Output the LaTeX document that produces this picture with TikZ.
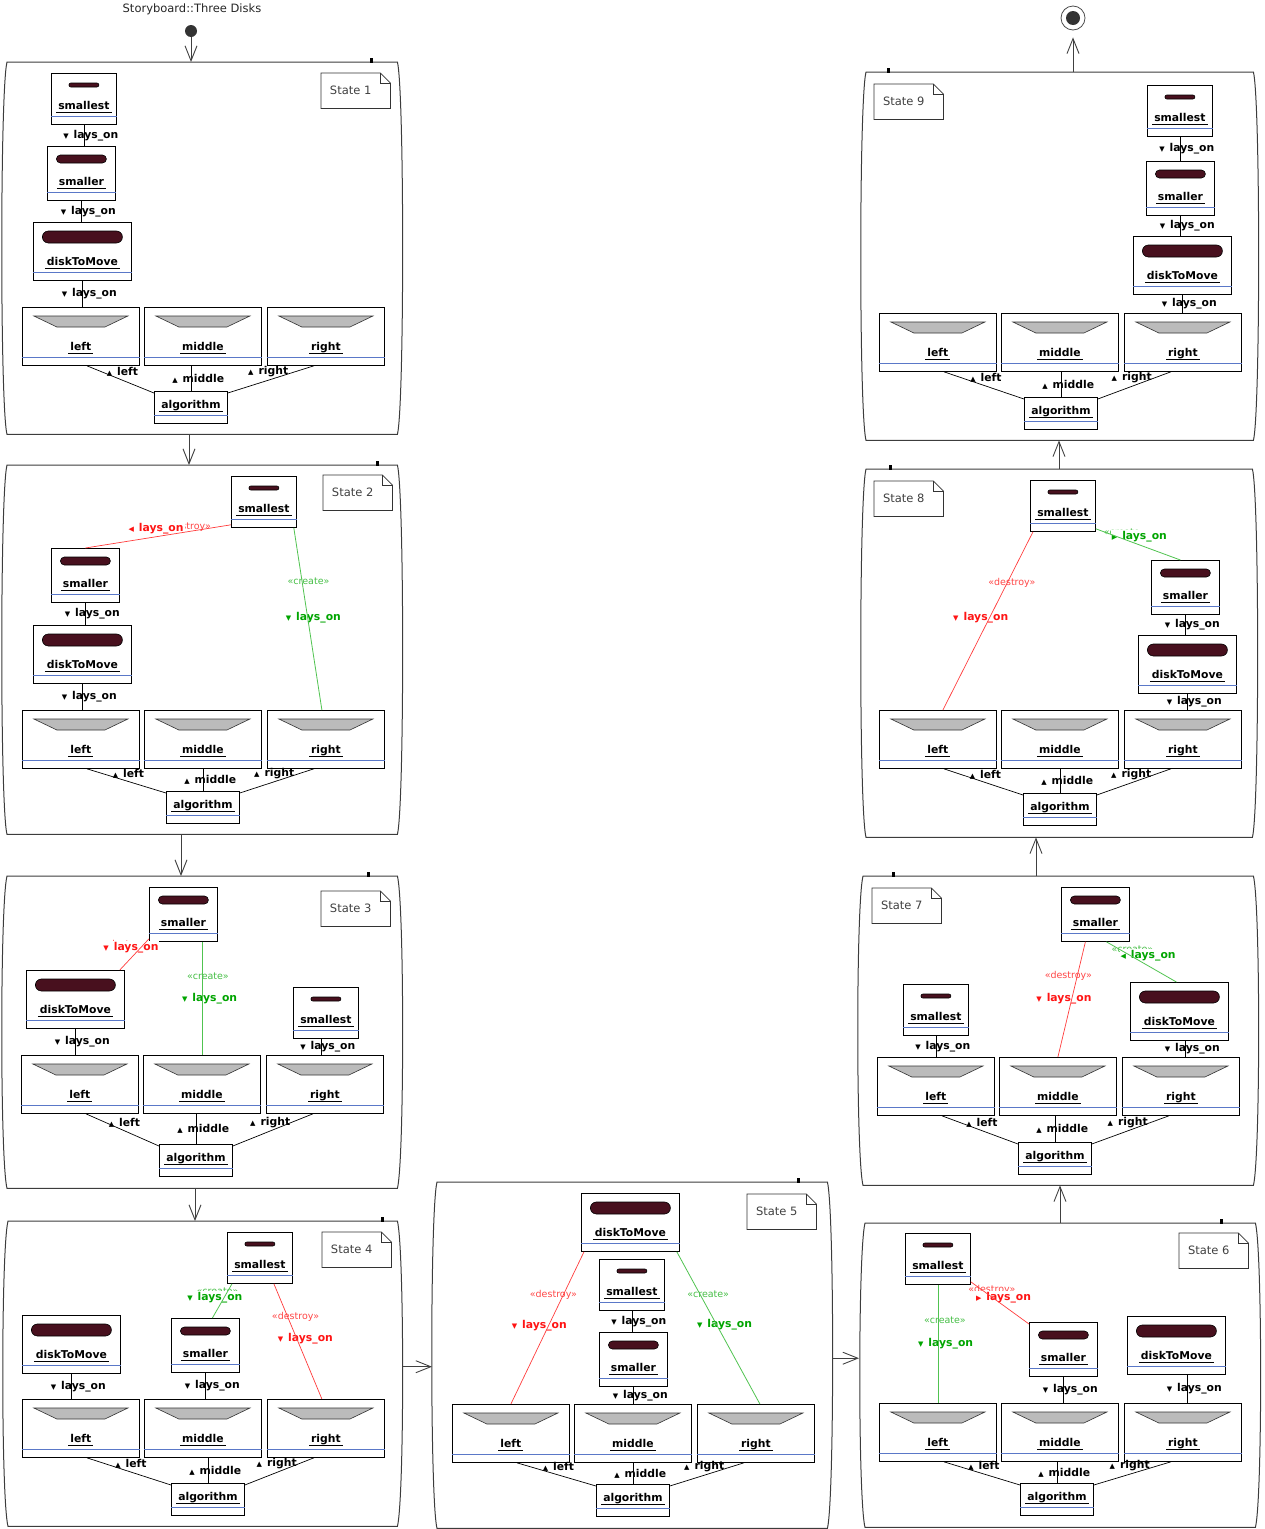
\documentclass[tikz,border=0pt]{standalone}
\usepackage{fontspec}
\setmainfont{DejaVu Sans}
\usetikzlibrary{arrows.meta, positioning, calc}

\definecolor{diskc}{RGB}{72,16,30}
\definecolor{pegc}{RGB}{187,187,187}
\definecolor{bluec}{RGB}{90,120,200}
\definecolor{frc}{RGB}{60,60,60}
\definecolor{lred}{RGB}{255,20,20}
\definecolor{lgrn}{RGB}{0,165,0}
\definecolor{sred}{RGB}{255,70,70}
\definecolor{sgrn}{RGB}{70,190,70}
\definecolor{rline}{RGB}{255,60,60}
\definecolor{gline}{RGB}{80,195,80}

\tikzset{
  objbox/.style={draw, fill=white, line width=0.8pt, inner sep=0, anchor=north west},
  nm/.style={font=\fontsize{10.8}{12}\selectfont\bfseries, anchor=base, inner sep=0},
  bline/.style={draw=bluec, line width=0.7pt},
  dsk/.style={fill=diskc, draw=black, line width=0.6pt},
  pegst/.style={fill=pegc, draw=black!80, line width=0.6pt},
  lnk/.style={draw=black, line width=0.7pt},
  lbl/.style={font=\fontsize{10.8}{12}\selectfont\bfseries, anchor=west, inner sep=0},
  clbl/.style={lbl, fill=white, inner sep=1pt},
  ster/.style={font=\fontsize{9.5}{11}\selectfont, inner sep=0},
  redl/.style={draw=rline, line width=0.7pt},
  grnl/.style={draw=gline, line width=0.8pt},
  stframe/.style={draw=frc, line width=1pt},
  statebox/.style={inner sep=0, anchor=north west},
  notebox/.style={inner sep=0, anchor=north west, minimum width=69, minimum height=35},
  notel/.style={draw=black!80, line width=0.7pt},
  notet/.style={font=\fontsize{11.5}{13}\selectfont, text=black!75, inner sep=0},
  trans/.style={draw=black!75, line width=0.9pt, -{Straight Barb[length=15pt,width=12pt]}},
}

% 名稱底線
\newcommand{\uln}[1]{\setbox0=\hbox{\kern2pt#1\kern2pt}\rlap{\copy0}\rule[-3pt]{\wd0}{0.7pt}}
% 小三角
\newcommand{\tdn}{{\normalfont\fontsize{7}{7}\selectfont ▼}\kern5pt}
\newcommand{\tup}{{\normalfont\fontsize{7}{7}\selectfont ▲}\kern5pt}
\newcommand{\tlf}{{\normalfont\fontsize{7}{7}\selectfont ◀}\kern5pt}
\newcommand{\trt}{{\normalfont\fontsize{7}{7}\selectfont ▶}\kern5pt}

% 物件框: id, x, y, 寬, 高, 名稱
\newcommand{\obj}[6]{%
  \node[objbox, minimum width=#4, minimum height=#5] (#1) at (#2,#3) {};
  \node[nm] (#1t) at ([yshift=15]#1.south) {\uln{#6}};
  \draw[bline] ([yshift=8]#1.south west) -- ([yshift=8]#1.south east);
}
% 圓盤: id, 半寬, 上距, 厚, 圓角
\newcommand{\dsk}[5]{%
  \filldraw[dsk, rounded corners=#5] ([xshift=-#2,yshift=-#3]#1.north) rectangle ([xshift=#2,yshift=-#3-#4]#1.north);
}
\newcommand{\smallestobj}[3]{\obj{#1}{#2}{#3}{65}{51}{smallest}\dsk{#1}{15}{10}{4}{2}}
\newcommand{\smallerobj}[3]{\obj{#1}{#2}{#3}{68}{54}{smaller}\dsk{#1}{25}{9}{8}{4}}
\newcommand{\moveobj}[3]{\obj{#1}{#2}{#3}{98}{58}{diskToMove}\dsk{#1}{40}{9}{12}{6}}
\newcommand{\pegobj}[4]{%
  \obj{#1}{#2}{#3}{117}{58}{#4}
  \filldraw[pegst] ([xshift=-47,yshift=-9]#1.north) -- ([xshift=47,yshift=-9]#1.north)
    -- ([xshift=24,yshift=-20]#1.north) -- ([xshift=-24,yshift=-20]#1.north) -- cycle;
}
\newcommand{\algobj}[3]{\obj{#1}{#2}{#3}{73}{32}{algorithm}}

% 三根柱子 + algorithm
\newcommand{\pegrow}[5]{%
  \pegobj{#1l}{#2}{#3}{left}
  \pegobj{#1m}{#2+122}{#3}{middle}
  \pegobj{#1r}{#2+245}{#3}{right}
  \algobj{#1a}{#4}{#5}
  \draw[lnk] ([xshift=6]#1l.south) -- ([yshift=-2]#1a.north west)
    node[midway, lbl, xshift=-14, yshift=7.5] {\tup left};
  \draw[lnk] (#1a.north) -- (#1a.north |- #1m.south)
    node[midway, lbl, xshift=-19] {\tup middle};
  \draw[lnk] ([xshift=-12]#1r.south) -- ([yshift=-2]#1a.north east)
    node[midway, lbl, xshift=-23, yshift=7.5] {\tup right};
}
% lays_on 連線
\newcommand{\lay}[3][0]{%
  \draw[lnk] ([xshift=#1]#2.south) -- ([xshift=#1]#2.south |- #3.north)
    node[midway, lbl, xshift=-21] {\tdn lays\_on};
}
% 狀態外框: id, x1, y1, x2, y2, 標記位置
\newcommand{\stframe}[6]{%
  \node[statebox, minimum width=#4-#2, minimum height=#5-#3] (#1) at (#2,#3) {};
  \draw[stframe] (#1.north west) -- (#1.north east)
    .. controls ($(#1.north east)+(7,28)$) and ($(#1.south east)+(7,-28)$) .. (#1.south east)
    -- (#1.south west)
    .. controls ($(#1.south west)+(-7,-28)$) and ($(#1.north west)+(-7,28)$) .. cycle;
  \fill[black] ([xshift=#6,yshift=4]#1.north west) rectangle ++(3,5);
}
% 註記
\newcommand{\stnote}[4]{%
  \node[notebox] (#1) at (#2,#3) {};
  \draw[notel] (#1.north west) -- ([xshift=-10]#1.north east) -- ([yshift=-10]#1.north east)
    -- (#1.south east) -- (#1.south west) -- cycle;
  \draw[notel] ([xshift=-10]#1.north east) |- ([yshift=-10]#1.north east);
  \node[notet] (#1t) at ([xshift=-5]#1.center) {#4};
}

\begin{document}
\begin{tikzpicture}[x=1pt, y=-1pt]
\useasboundingbox (0,0) rectangle (1264,1529);

% 標題, 起點, 終點
\node[font=\fontsize{11.5}{13}\selectfont, text=black!85] (title) at (192,9) {Storyboard::Three Disks};
\node[circle, fill=black!80, inner sep=0, minimum size=12] (init) at (191,31) {};
\node[circle, draw=black!70, fill=white, inner sep=0, minimum size=24, line width=0.8pt] (fin) at (1073,18) {};
\fill[black!80] (fin) circle (7);

% State 1
\stframe{s1}{7}{62}{397}{434}{363}
\stnote{s1n}{321}{73}{State 1}
\smallestobj{s1sm}{51}{73}
\smallerobj{s1sr}{47}{146}
\moveobj{s1mv}{33}{222}
\pegrow{s1}{22}{307}{154}{391}
\lay{s1sm}{s1sr}
\lay{s1sr}{s1mv}
\lay{s1mv}{s1l}

% State 2
\stframe{s2}{7}{465}{397}{834}{369}
\stnote{s2n}{323}{475}{State 2}
\smallestobj{s2sm}{231}{476}
\smallerobj{s2sr}{51}{548}
\moveobj{s2mv}{33}{625}
\pegrow{s2}{22}{710}{166}{791}
\lay{s2sr}{s2mv}
\lay{s2mv}{s2l}
\path ([yshift=3]s2sm.south west) -- (s2sr.north)
  node[pos=.3, ster, text=sred, yshift=5] {«destroy»}
  node[pos=.712, clbl, text=lred, yshift=13] {\tlf lays\_on};
\draw[redl] ([yshift=3]s2sm.south west) -- (s2sr.north);
\path ([xshift=-3]s2sm.south east) -- ([xshift=-4]s2r.north)
  node[pos=.293, ster, text=sgrn, xshift=6.5] {«create»}
  node[pos=.492, clbl, text=lgrn, xshift=-23] {\tdn lays\_on};
\draw[grnl] ([xshift=-3]s2sm.south east) -- ([xshift=-4]s2r.north);

% State 3
\stframe{s3}{7}{876}{397}{1188}{360}
\stnote{s3n}{321}{891}{State 3}
\smallerobj{s3sr}{149}{887}
\moveobj{s3mv}{26}{970}
\smallestobj{s3sm}{293}{987}
\pegrow{s3}{21}{1055}{159}{1144}
\lay{s3mv}{s3l}
\lay[-5]{s3sm}{s3r}
\path ([yshift=3]s3sr.south west) -- ([xshift=-5]s3mv.north east)
  node[pos=.1875, ster, text=sred, xshift=-17] {«destroy»}
  node[pos=.28, clbl, text=lred, xshift=-38.6] {\tdn lays\_on};
\draw[redl] ([yshift=3]s3sr.south west) -- ([xshift=-5]s3mv.north east);
\path (s3m.north |- s3sr.south) -- (s3m.north)
  node[pos=.307, ster, text=sgrn, xshift=6] {«create»}
  node[pos=.5, clbl, text=lgrn, xshift=-21] {\tdn lays\_on};
\draw[grnl] (s3m.north |- s3sr.south) -- (s3m.north);

% State 4
\stframe{s4}{8}{1221}{397}{1526}{373}
\stnote{s4n}{322}{1232}{State 4}
\smallestobj{s4sm}{227}{1232}
\moveobj{s4mv}{22}{1315}
\smallerobj{s4sr}{171}{1318}
\pegrow{s4}{22}{1399}{171}{1483}
\lay{s4mv}{s4l}
\lay{s4sr}{s4m}
\path ([xshift=5]s4sm.south west) -- ([xshift=7]s4sr.north)
  node[pos=.23, ster, text=sgrn, xshift=-10] {«create»}
  node[pos=.4, clbl, text=lgrn, xshift=-38] {\tdn lays\_on};
\draw[grnl] ([xshift=5]s4sm.south west) -- ([xshift=7]s4sr.north);
\path ([xshift=14]s4sm.south) -- ([xshift=-4]s4r.north)
  node[pos=.284, ster, text=sred, xshift=8] {«destroy»}
  node[pos=.474, clbl, text=lred, xshift=-20] {\tdn lays\_on};
\draw[redl] ([xshift=14]s4sm.south) -- ([xshift=-4]s4r.north);

% State 5
\stframe{s5}{437}{1182}{827}{1528}{360}
\stnote{s5n}{747}{1194}{State 5}
\moveobj{s5mv}{581}{1193}
\smallestobj{s5sm}{599}{1259}
\smallerobj{s5sr}{599}{1332}
\pegrow{s5}{452}{1404}{596}{1484}
\lay{s5sm}{s5sr}
\lay{s5sr}{s5m}
\path ([xshift=3]s5mv.south west) -- (s5l.north)
  node[pos=.281, ster, text=sred, xshift=-10] {«destroy»}
  node[pos=.484, clbl, text=lred, xshift=-38] {\tdn lays\_on};
\draw[redl] ([xshift=3]s5mv.south west) -- (s5l.north);
\path ([xshift=-3]s5mv.south east) -- ([xshift=4]s5r.north)
  node[pos=.281, ster, text=sgrn, xshift=8] {«create»}
  node[pos=.477, clbl, text=lgrn, xshift=-20.6] {\tdn lays\_on};
\draw[grnl] ([xshift=-3]s5mv.south east) -- ([xshift=4]s5r.north);

% State 6
\stframe{s6}{865}{1223}{1255}{1527}{355}
\stnote{s6n}{1179}{1233}{State 6}
\smallestobj{s6sm}{905}{1233}
\smallerobj{s6sr}{1029}{1322}
\moveobj{s6mv}{1127}{1316}
\pegrow{s6}{879}{1403}{1020}{1483}
\lay{s6sr}{s6m}
\lay[11]{s6mv}{s6r}
\path (s6sm.south) -- (s6sm.south |- s6l.north)
  node[pos=.3, ster, text=sgrn, xshift=7] {«create»}
  node[pos=.5, clbl, text=lgrn, xshift=-21] {\tdn lays\_on};
\draw[grnl] (s6sm.south) -- (s6sm.south |- s6l.north);
\path ([yshift=3]s6sm.south east) -- ([yshift=-2]s6sr.north west)
  node[pos=.362, ster, text=sred, yshift=7.6] {«destroy»}
  node[pos=.3, clbl, text=lred, xshift=-13.4, yshift=-3.1] {\trt lays\_on};
\draw[redl] ([yshift=3]s6sm.south east) -- ([yshift=-2]s6sr.north west);

% State 7
\stframe{s7}{863}{876}{1253}{1185}{29}
\stnote{s7n}{872}{888}{State 7}
\smallerobj{s7sr}{1061}{887}
\smallestobj{s7sm}{903}{984}
\moveobj{s7mv}{1130}{982}
\pegrow{s7}{877}{1057}{1018}{1142}
\lay{s7sm}{s7l}
\lay[6]{s7mv}{s7r}
\path ([xshift=-10]s7sr.south) -- (s7m.north)
  node[pos=.293, ster, text=sred, xshift=-9] {«destroy»}
  node[pos=.491, clbl, text=lred, xshift=-36.7] {\tdn lays\_on};
\draw[redl] ([xshift=-10]s7sr.south) -- (s7m.north);
\path ([xshift=11]s7sr.south) -- ([xshift=-3]s7mv.north)
  node[pos=.3, ster, text=sgrn, xshift=5, yshift=4.7] {«create»}
  node[pos=.3, clbl, text=lgrn, xshift=-8, yshift=-1.3] {\tlf lays\_on};
\draw[grnl] ([xshift=11]s7sr.south) -- ([xshift=-3]s7mv.north);

% State 8
\stframe{s8}{866}{469}{1252}{837}{23}
\stnote{s8n}{874}{481}{State 8}
\smallestobj{s8sm}{1030}{480}
\smallerobj{s8sr}{1151}{560}
\moveobj{s8mv}{1138}{635}
\pegrow{s8}{879}{710}{1023}{793}
\lay{s8sr}{s8mv}
\lay{s8mv}{s8r}
\path ([xshift=3]s8sm.south west) -- ([xshift=5]s8l.north)
  node[pos=.285, ster, text=sred, xshift=4.6] {«destroy»}
  node[pos=.48, clbl, text=lred, xshift=-37.8] {\tdn lays\_on};
\draw[redl] ([xshift=3]s8sm.south west) -- ([xshift=5]s8l.north);
\path ([yshift=3]s8sm.south east) -- ([xshift=-5]s8sr.north)
  node[pos=.3, ster, text=sgrn, xshift=3.5, yshift=6.3] {«create»}
  node[pos=.3, clbl, text=lgrn, xshift=-10.5, yshift=1.3] {\trt lays\_on};
\draw[grnl] ([yshift=3]s8sm.south east) -- ([xshift=-5]s8sr.north);

% State 9
\stframe{s9}{866}{72}{1253}{440}{21}
\stnote{s9n}{874}{84}{State 9}
\smallestobj{s9sm}{1147}{85}
\smallerobj{s9sr}{1146}{161}
\moveobj{s9mv}{1133}{236}
\pegrow{s9}{879}{313}{1024}{397}
\lay{s9sm}{s9sr}
\lay{s9sr}{s9mv}
\lay{s9mv}{s9r}

% 轉移
\draw[trans] (init) -- (init |- s1.north);
\draw[trans] ([xshift=182]s1.south west) -- ([xshift=182]s1.south west |- s2.north);
\draw[trans] ([xshift=174]s2.south west) -- ([xshift=174]s2.south west |- s3.north);
\draw[trans] ([xshift=188]s3.south west) -- ([xshift=188]s3.south west |- s4.north);
\coordinate (t45) at ([xshift=6,yshift=7]s4.east);
\draw[trans] (t45) -- ([xshift=-5]s5.west |- t45);
\coordinate (t56) at ([xshift=5,yshift=-3]s5.east);
\draw[trans] (t56) -- ([xshift=-6]s6.west |- t56);
\draw[trans] ([xshift=195]s6.north west) -- ([xshift=195]s6.north west |- s7.south);
\draw[trans] ([xshift=173]s7.north west) -- ([xshift=173]s7.north west |- s8.south);
\draw[trans] ([xshift=193]s8.north west) -- ([xshift=193]s8.north west |- s9.south);
\draw[trans] (s9.north -| fin) -- ([yshift=-7]fin.south);

\end{tikzpicture}
\end{document}
